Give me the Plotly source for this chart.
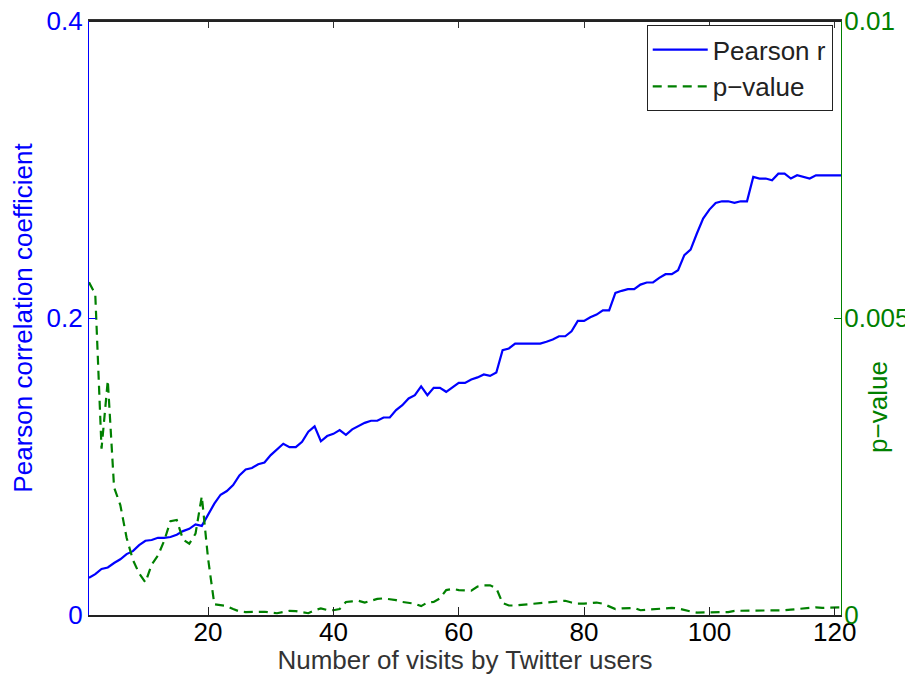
import plotly.graph_objects as go

# x-axis domain: number of visits
visits = list(range(1, 122))

pearson_r = [
    0.025, 0.0275, 0.031, 0.032, 0.035, 0.0375, 0.041, 0.043, 0.047, 0.050,
    0.0505, 0.052, 0.052, 0.0525, 0.054, 0.0565, 0.058, 0.061, 0.060, 0.068,
    0.075, 0.081, 0.0835, 0.0875, 0.094, 0.098, 0.099, 0.1015, 0.1027, 0.1077,
    0.1117, 0.1153, 0.113, 0.113, 0.1166, 0.1234, 0.127, 0.117, 0.1205, 0.122,
    0.1245, 0.1213, 0.125, 0.127, 0.1294, 0.1308, 0.1308, 0.133, 0.133, 0.138,
    0.1413, 0.1458, 0.148, 0.154, 0.148, 0.153, 0.153, 0.1503, 0.1536, 0.1563,
    0.1563, 0.1586, 0.160, 0.162, 0.161, 0.1633, 0.1783, 0.1795, 0.1828, 0.1828,
    0.1828, 0.1828, 0.1828, 0.184, 0.1855, 0.1877, 0.1877, 0.191, 0.198, 0.198,
    0.2005, 0.2023, 0.2052, 0.2052, 0.2169, 0.2183, 0.2194, 0.2194, 0.2225, 0.2239,
    0.2239, 0.227, 0.2295, 0.2295, 0.2322, 0.2423, 0.2461, 0.2569, 0.267, 0.273,
    0.2775, 0.2786, 0.2786, 0.2775, 0.2786, 0.2786, 0.295, 0.2939, 0.2939, 0.2927,
    0.2972, 0.2972, 0.2939, 0.2961, 0.295, 0.2939, 0.2961, 0.2961, 0.2961, 0.2961,
    0.2961,
]

# p-values in units of 1e-3
p_value_milli = [
    5.6, 5.4, 2.8, 3.95, 2.15, 1.85, 1.3, 0.93, 0.7, 0.55,
    0.85, 1.0, 1.25, 1.58, 1.6, 1.27, 1.2, 1.37, 2.0, 0.95,
    0.18, 0.16, 0.15, 0.1, 0.06, 0.05, 0.05, 0.06, 0.055, 0.04,
    0.03, 0.05, 0.07, 0.065, 0.05, 0.03, 0.08, 0.11, 0.085, 0.08,
    0.1, 0.22, 0.23, 0.24, 0.21, 0.24, 0.27, 0.28, 0.27, 0.25,
    0.22, 0.2, 0.19, 0.15, 0.21, 0.22, 0.28, 0.42, 0.44, 0.42,
    0.41, 0.41, 0.48, 0.5, 0.5, 0.45, 0.2, 0.16, 0.16, 0.17,
    0.18, 0.19, 0.2, 0.21, 0.22, 0.23, 0.24, 0.21, 0.19, 0.19,
    0.2, 0.21, 0.19, 0.15, 0.1, 0.11, 0.12, 0.12, 0.08, 0.09,
    0.1, 0.1, 0.11, 0.12, 0.11, 0.08, 0.06, 0.04, 0.04, 0.04,
    0.04, 0.04, 0.05, 0.07, 0.07, 0.07, 0.07, 0.07, 0.07, 0.07,
    0.07, 0.08, 0.09, 0.1, 0.11, 0.12, 0.13, 0.12, 0.12, 0.13,
    0.13,
]
p_value = [v * 1e-3 for v in p_value_milli]

x_ticks = [20, 40, 60, 80, 100, 120]
left_ticks = [0, 0.2, 0.4]
left_ticktext = ["0", "0.2", "0.4"]
right_ticks = [0, 0.005, 0.01]
right_ticktext = ["0", "0.005", "0.01"]

BLUE = "#0000FF"
GREEN = "#008000"
FONT = "Liberation Sans, Arial, Helvetica, sans-serif"
FS = 26

fig = go.Figure()
fig.add_trace(go.Scatter(
    x=visits, y=pearson_r, mode="lines", name="Pearson r",
    line=dict(color=BLUE, width=2.2),
))
fig.add_trace(go.Scatter(
    x=visits, y=p_value, mode="lines", name="p\u2212value",
    xaxis="x2", yaxis="y2",
    line=dict(color=GREEN, width=2.2, dash="9px,6px"),
))

fig.update_layout(
    width=905, height=667,
    margin=dict(l=81, r=72, t=13, b=60, autoexpand=False),
    paper_bgcolor="white", plot_bgcolor="white",
    font=dict(family=FONT, size=FS, color="#222222"),
    showlegend=True,
    legend=dict(
        x=0.989, y=0.993, xanchor="right", yanchor="top",
        bgcolor="white", bordercolor="#222222", borderwidth=1,
        font=dict(family=FONT, size=FS, color="#222222"),
        traceorder="normal", itemwidth=55,
    ),
    xaxis=dict(
        range=[1, 121], tickvals=x_ticks, ticks="inside", ticklen=8,
        tickcolor="#222222", showline=True, linecolor="#222222", linewidth=1.5,
        showgrid=False, zeroline=False, automargin=False,
        ticklabeloverflow="allow", ticklabelstandoff=-7,
        tickfont=dict(family=FONT, size=FS, color="black"),
        title=dict(text="Number of visits by Twitter users", standoff=11,
                   font=dict(family=FONT, size=FS, color="#333333")),
    ),
    xaxis2=dict(
        range=[1, 121], tickvals=x_ticks, ticks="inside", ticklen=7,
        tickcolor="#333333", showline=True, linecolor="#333333", linewidth=1.5,
        showgrid=False, zeroline=False, showticklabels=False, automargin=False,
        overlaying="x", side="top", anchor="y2",
    ),
    yaxis=dict(
        range=[0, 0.4], tickvals=left_ticks, ticktext=left_ticktext,
        ticks="inside", ticklen=7, tickcolor=BLUE, showline=True,
        linecolor=BLUE, linewidth=1.2, showgrid=False, zeroline=False,
        automargin=False, ticklabeloverflow="allow",
        tickfont=dict(family=FONT, size=FS, color=BLUE),
        title=dict(text="Pearson correlation coefficient", standoff=9,
                   font=dict(family=FONT, size=FS, color=BLUE)),
    ),
    yaxis2=dict(
        range=[0, 0.01], tickvals=right_ticks, ticktext=right_ticktext,
        overlaying="y", side="right", anchor="x2",
        ticks="inside", ticklen=7, tickcolor=GREEN, showline=True,
        linecolor=GREEN, linewidth=1.2, showgrid=False, zeroline=False,
        automargin=False, ticklabeloverflow="allow", ticklabelstandoff=-3,
        tickfont=dict(family=FONT, size=FS, color=GREEN),
    ),
    shapes=[dict(
        type="line", xref="paper", yref="paper", x0=0, x1=1, y0=1, y1=1,
        line=dict(color="#222222", width=2), layer="above",
    )],
    annotations=[dict(
        text="p\u2212value", textangle=-90, xref="paper", yref="paper",
        x=1.049, y=0.35, xanchor="center", yanchor="middle", showarrow=False,
        font=dict(family=FONT, size=FS, color=GREEN),
    )],
)

fig.write_html("out.html")
